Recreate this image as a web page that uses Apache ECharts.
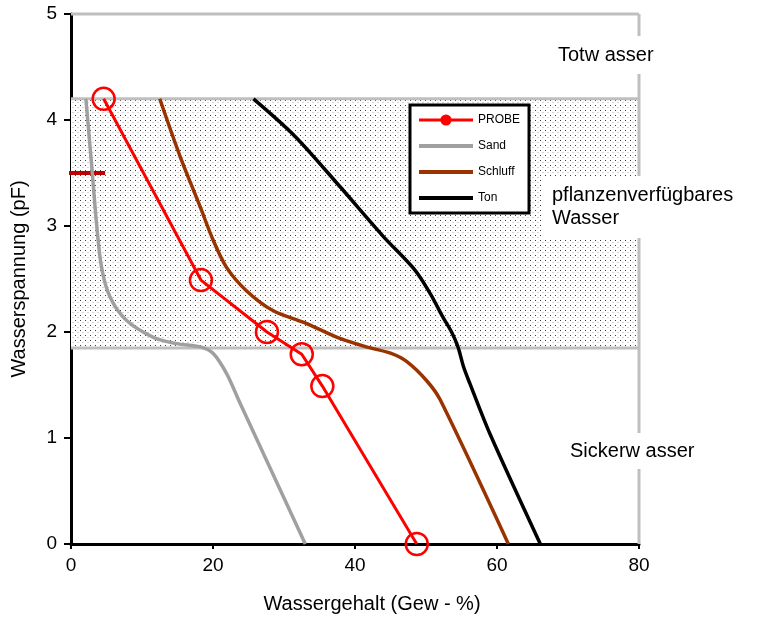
<!DOCTYPE html>
<html>
<head>
<meta charset="utf-8">
<script src="https://cdn.jsdelivr.net/npm/echarts@6/dist/echarts.min.js"></script>
<style>
html,body{margin:0;padding:0;background:#fff;}
#chart{width:758px;height:623px;}
</style>
</head>
<body>
<div id="chart"></div>
<script>
// ---- data ----
var xTicks = [0, 20, 40, 60, 80];
var yTicks = [0, 1, 2, 3, 4, 5];
var probe = [[4.6, 4.2], [18.3, 2.49], [27.6, 2.0], [32.5, 1.79], [35.4, 1.49], [48.7, 0]];
var sand = [[2.1, 4.2], [3.0, 3.5], [3.6, 3.02], [4.3, 2.61], [5.5, 2.33], [7.8, 2.11], [11.6, 1.95], [14.9, 1.89], [18.2, 1.86], [20.0, 1.8], [21.9, 1.61], [23.8, 1.33], [33.0, 0]];
var schluff = [[12.5, 4.2], [15.4, 3.65], [18.2, 3.18], [20.0, 2.87], [21.9, 2.61], [24.7, 2.39], [28.5, 2.2], [33.2, 2.08], [37.5, 1.95], [41.6, 1.86], [45.0, 1.8], [47.3, 1.72], [50.1, 1.54], [52.0, 1.36], [61.6, 0]];
var ton = [[25.7, 4.2], [31.5, 3.85], [37.9, 3.37], [44.0, 2.9], [48.5, 2.58], [50.7, 2.35], [52.3, 2.15], [53.6, 2.0], [54.5, 1.86], [55.3, 1.67], [56.2, 1.51], [59.0, 1.04], [66.1, 0]];
var zoneBounds = [1.85, 4.2];      // pflanzenverfügbares Wasser (pF)
var xRange = [0, 80];
var yRange = [0, 5];
var pwpMarker = [[-1.3, 3.5], [4.8, 3.5]];
var zoneLabels = ['Totw asser', 'pflanzenverfügbares\nWasser', 'Sickerw asser'];

// ---- dotted pattern ----
var pc = document.createElement('canvas');
pc.width = 5; pc.height = 5;
var g = pc.getContext('2d');
g.fillStyle = '#ffffff'; g.fillRect(0, 0, 5, 5);
g.fillStyle = '#3a3a3a'; g.fillRect(0, 0, 1, 1);
g.fillStyle = '#d4d4d4'; g.fillRect(2, 2, 2, 1);

var FONT = '"Liberation Sans", Arial, sans-serif';
var gray = '#bfbfbf';

function hLine(y) { return [[xRange[0], y], [xRange[1], y]]; }

var chart = echarts.init(document.getElementById('chart'), null, {renderer: 'canvas'});
var option = {
  animation: false,
  backgroundColor: '#ffffff',
  grid: {left: 71, right: 119, top: 14, bottom: 79, containLabel: false},
  xAxis: {
    type: 'value', min: xTicks[0], max: xTicks[xTicks.length - 1], interval: 20,
    name: 'Wassergehalt (Gew - %)', nameLocation: 'middle', nameGap: 50,
    nameTextStyle: {fontFamily: FONT, fontSize: 20, color: '#000', padding: [0, 0, 0, 34]},
    axisLine: {lineStyle: {color: '#000', width: 3}},
    axisTick: {inside: false, length: 5, lineStyle: {color: '#000', width: 2}},
    axisLabel: {fontFamily: FONT, fontSize: 19, color: '#000', margin: 12},
    splitLine: {show: false}
  },
  yAxis: {
    type: 'value', min: yTicks[0], max: yTicks[yTicks.length - 1], interval: 1,
    name: 'Wasserspannung (pF)', nameLocation: 'middle', nameGap: 42, nameRotate: 90,
    nameTextStyle: {fontFamily: FONT, fontSize: 20, color: '#000'},
    axisLine: {lineStyle: {color: '#000', width: 3}},
    axisTick: {inside: false, length: 7, lineStyle: {color: '#000', width: 2}},
    axisLabel: {fontFamily: FONT, fontSize: 19, color: '#000', margin: 14},
    splitLine: {show: false}
  },
  legend: {
    data: [
      {name: 'PROBE', itemStyle: {color: '#ff0000', borderWidth: 0}, lineStyle: {width: 3}},
      {name: 'Sand', itemStyle: {opacity: 0}, lineStyle: {width: 4}},
      {name: 'Schluff', itemStyle: {opacity: 0}, lineStyle: {width: 4}},
      {name: 'Ton', itemStyle: {opacity: 0}, lineStyle: {width: 4}}
    ],
    orient: 'vertical', left: 410, top: 105,
    padding: [8, 9, 8, 7],
    itemWidth: 54, itemHeight: 14, itemGap: 12,
    backgroundColor: '#ffffff', borderColor: '#000', borderWidth: 3,
    textStyle: {fontFamily: FONT, fontSize: 12, color: '#000', lineHeight: 14},
    selectedMode: false
  },
  series: [
    {
      name: 'zone', type: 'line', data: [], silent: true, z: 1,
      markArea: {
        silent: true,
        itemStyle: {color: {image: pc, repeat: 'repeat'}},
        data: [[{coord: [xRange[0], zoneBounds[0]]}, {coord: [xRange[1], zoneBounds[1]]}]]
      }
    },
    {name: 'frameTop', type: 'line', data: hLine(yRange[1]), symbol: 'none', clip: false, z: 2, silent: true,
      lineStyle: {color: gray, width: 3}},
    {name: 'frameRight', type: 'line', data: [[xRange[1], yRange[0]], [xRange[1], yRange[1]]], symbol: 'none', clip: false, z: 2, silent: true,
      lineStyle: {color: gray, width: 3}},
    {name: 'zoneTop', type: 'line', data: hLine(zoneBounds[1]), symbol: 'none', clip: false, z: 2, silent: true,
      lineStyle: {color: gray, width: 3}},
    {name: 'zoneBottom', type: 'line', data: hLine(zoneBounds[0]), symbol: 'none', clip: false, z: 2, silent: true,
      lineStyle: {color: gray, width: 3}},
    {name: 'marker', type: 'line', data: pwpMarker, symbol: 'none', clip: false, z: 3, silent: true,
      lineStyle: {color: '#c00000', width: 4}},
    {name: 'Sand', type: 'line', data: sand, symbol: 'none', smooth: 0.3, z: 4,
      lineStyle: {color: '#a0a0a0', width: 3.5}, itemStyle: {color: '#a0a0a0'}},
    {name: 'Schluff', type: 'line', data: schluff, symbol: 'none', smooth: 0.3, z: 4,
      lineStyle: {color: '#993300', width: 3.5}, itemStyle: {color: '#993300'}},
    {name: 'Ton', type: 'line', data: ton, symbol: 'none', smooth: 0.3, z: 4,
      lineStyle: {color: '#000000', width: 3.5}, itemStyle: {color: '#000000'}},
    {name: 'PROBE', type: 'line', data: probe, symbol: 'circle', symbolSize: 22, clip: false, z: 5,
      lineStyle: {color: '#ff0000', width: 3},
      itemStyle: {color: 'rgba(255,255,255,0)', borderColor: '#ff0000', borderWidth: 2.5}}
  ],
  graphic: [
    {type: 'text', left: 548, top: 36, z: 10,
      style: {text: zoneLabels[0], font: '20px ' + FONT, fill: '#000', backgroundColor: '#fff', padding: [9, 10, 9, 10]}},
    {type: 'text', left: 542, top: 176, z: 10,
      style: {text: zoneLabels[1], font: '20px ' + FONT, fill: '#000', backgroundColor: '#fff', lineHeight: 23, padding: [8, 6, 8, 10]}},
    {type: 'text', left: 560, top: 433, z: 10,
      style: {text: zoneLabels[2], font: '20px ' + FONT, fill: '#000', backgroundColor: '#fff', padding: [8, 10, 8, 10]}}
  ]
};
chart.setOption(option);
</script>
</body>
</html>
